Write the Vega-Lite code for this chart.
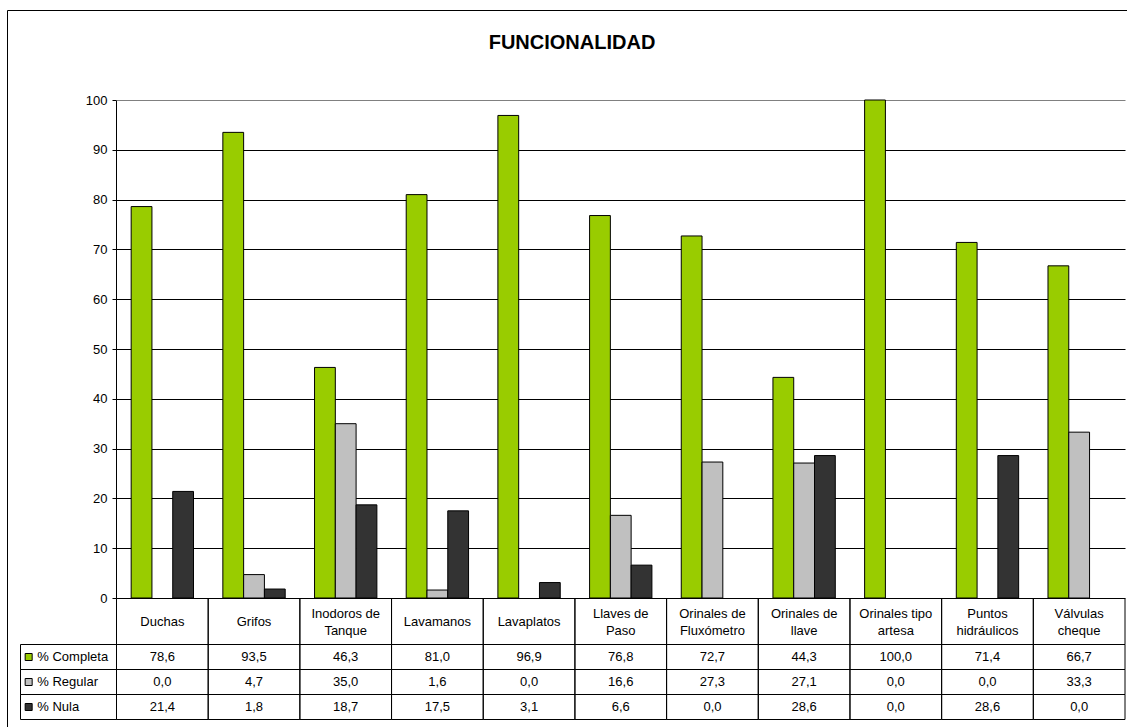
{
  "$schema": "https://vega.github.io/schema/vega-lite/v6.json",
  "width": 1130,
  "height": 725,
  "autosize": {"type": "none"},
  "padding": {"left": 7, "top": 10, "right": 0, "bottom": 0},
  "background": "white",
  "title": {
    "text": "FUNCIONALIDAD",
    "font": "Liberation Sans",
    "fontSize": 20,
    "fontWeight": "bold",
    "color": "#000",
    "anchor": "middle",
    "frame": "group",
    "offset": -43
  },
  "config": {
    "view": {"stroke": "#000", "strokeWidth": 1},
    "locale": {"number": {"decimal": ",", "thousands": ".", "grouping": [3], "currency": ["", " €"]}},
    "text": {"font": "Liberation Sans", "fontSize": 13, "color": "#000"}
  },
  "data": {
    "values": [
      {"categoria": "Duchas", "serie": "% Completa", "valor": 78.6},
      {"categoria": "Duchas", "serie": "% Regular", "valor": 0.0},
      {"categoria": "Duchas", "serie": "% Nula", "valor": 21.4},
      {"categoria": "Grifos", "serie": "% Completa", "valor": 93.5},
      {"categoria": "Grifos", "serie": "% Regular", "valor": 4.7},
      {"categoria": "Grifos", "serie": "% Nula", "valor": 1.8},
      {"categoria": "Inodoros de\nTanque", "serie": "% Completa", "valor": 46.3},
      {"categoria": "Inodoros de\nTanque", "serie": "% Regular", "valor": 35.0},
      {"categoria": "Inodoros de\nTanque", "serie": "% Nula", "valor": 18.7},
      {"categoria": "Lavamanos", "serie": "% Completa", "valor": 81.0},
      {"categoria": "Lavamanos", "serie": "% Regular", "valor": 1.6},
      {"categoria": "Lavamanos", "serie": "% Nula", "valor": 17.5},
      {"categoria": "Lavaplatos", "serie": "% Completa", "valor": 96.9},
      {"categoria": "Lavaplatos", "serie": "% Regular", "valor": 0.0},
      {"categoria": "Lavaplatos", "serie": "% Nula", "valor": 3.1},
      {"categoria": "Llaves de\nPaso", "serie": "% Completa", "valor": 76.8},
      {"categoria": "Llaves de\nPaso", "serie": "% Regular", "valor": 16.6},
      {"categoria": "Llaves de\nPaso", "serie": "% Nula", "valor": 6.6},
      {"categoria": "Orinales de\nFluxómetro", "serie": "% Completa", "valor": 72.7},
      {"categoria": "Orinales de\nFluxómetro", "serie": "% Regular", "valor": 27.3},
      {"categoria": "Orinales de\nFluxómetro", "serie": "% Nula", "valor": 0.0},
      {"categoria": "Orinales de\nllave", "serie": "% Completa", "valor": 44.3},
      {"categoria": "Orinales de\nllave", "serie": "% Regular", "valor": 27.1},
      {"categoria": "Orinales de\nllave", "serie": "% Nula", "valor": 28.6},
      {"categoria": "Orinales tipo\nartesa", "serie": "% Completa", "valor": 100.0},
      {"categoria": "Orinales tipo\nartesa", "serie": "% Regular", "valor": 0.0},
      {"categoria": "Orinales tipo\nartesa", "serie": "% Nula", "valor": 0.0},
      {"categoria": "Puntos\nhidráulicos", "serie": "% Completa", "valor": 71.4},
      {"categoria": "Puntos\nhidráulicos", "serie": "% Regular", "valor": 0.0},
      {"categoria": "Puntos\nhidráulicos", "serie": "% Nula", "valor": 28.6},
      {"categoria": "Válvulas\ncheque", "serie": "% Completa", "valor": 66.7},
      {"categoria": "Válvulas\ncheque", "serie": "% Regular", "valor": 33.3},
      {"categoria": "Válvulas\ncheque", "serie": "% Nula", "valor": 0.0}
    ]
  },
  "resolve": {"scale": {"x": "independent", "y": "independent"}},
  "layer": [
    {
      "transform": [{"filter": "datum.valor > 0"}],
      "mark": {"type": "bar", "stroke": "#000", "strokeWidth": 1},
      "encoding": {
        "x": {
          "field": "categoria", "type": "nominal", "axis": null,
          "scale": {
            "type": "band",
            "domain": ["Duchas", "Grifos", "Inodoros de\nTanque", "Lavamanos", "Lavaplatos", "Llaves de\nPaso", "Orinales de\nFluxómetro", "Orinales de\nllave", "Orinales tipo\nartesa", "Puntos\nhidráulicos", "Válvulas\ncheque"],
            "range": [109.5, 1118], "paddingInner": 0.32, "paddingOuter": 0.16
          }
        },
        "xOffset": {
          "field": "serie", "type": "nominal",
          "scale": {"domain": ["% Completa", "% Regular", "% Nula"], "paddingInner": 0, "paddingOuter": 0}
        },
        "y": {
          "field": "valor", "type": "quantitative",
          "scale": {"domain": [0, 100], "range": [588, 90], "nice": false},
          "axis": {
            "values": [0, 10, 20, 30, 40, 50, 60, 70, 80, 90, 100],
            "offset": -109,
            "title": null,
            "domain": true, "domainColor": "#000", "domainWidth": 1,
            "ticks": true, "tickSize": 4, "tickColor": "#000", "tickWidth": 1,
            "labelFont": "Liberation Sans", "labelFontSize": 13, "labelColor": "#000", "labelPadding": 5,
            "grid": true,
            "gridColor": {"condition": {"test": "datum.value === 100", "value": "#808080"}, "value": "#000"},
            "gridWidth": 1
          }
        },
        "color": {
          "field": "serie", "type": "nominal",
          "scale": {"domain": ["% Completa", "% Regular", "% Nula"], "range": ["#99CC00", "#C0C0C0", "#333333"]},
          "legend": null
        }
      }
    },
    {
      "transform": [{"filter": "datum.serie === '% Completa'"}],
      "encoding": {
        "x": {
          "field": "categoria", "type": "nominal", "sort": null, "axis": null,
          "scale": {"type": "band", "range": [109.5, 1118], "paddingInner": 0, "paddingOuter": 0}
        },
        "y": {
          "datum": "encabezado", "type": "nominal", "axis": null,
          "scale": {"type": "band", "domain": ["encabezado"], "range": [588.5, 634.5], "paddingInner": 0, "paddingOuter": 0}
        }
      },
      "layer": [
        {"mark": {"type": "rect", "fill": "transparent", "stroke": "#000", "strokeWidth": 1}},
        {
          "transform": [{"filter": "indexof(datum.categoria, '\\n') < 0"}],
          "mark": {"type": "text", "baseline": "middle", "align": "center"},
          "encoding": {"text": {"field": "categoria", "type": "nominal"}}
        },
        {
          "transform": [{"filter": "indexof(datum.categoria, '\\n') >= 0"}],
          "mark": {"type": "text", "lineBreak": "\n", "lineHeight": 17, "baseline": "middle", "align": "center", "dy": -8},
          "encoding": {"text": {"field": "categoria", "type": "nominal"}}
        }
      ]
    },
    {
      "encoding": {
        "x": {
          "field": "categoria", "type": "nominal", "sort": null, "axis": null,
          "scale": {"type": "band", "range": [109.5, 1118], "paddingInner": 0, "paddingOuter": 0}
        },
        "y": {
          "field": "serie", "type": "nominal", "axis": null,
          "scale": {"type": "band", "domain": ["% Completa", "% Regular", "% Nula"], "range": [634.5, 709.5], "paddingInner": 0, "paddingOuter": 0}
        }
      },
      "layer": [
        {"mark": {"type": "rect", "fill": "transparent", "stroke": "#000", "strokeWidth": 1}},
        {
          "mark": {"type": "text", "baseline": "middle", "align": "center"},
          "encoding": {"text": {"field": "valor", "type": "quantitative", "format": ".1f"}}
        }
      ]
    },
    {
      "transform": [{"aggregate": [{"op": "count", "as": "n"}], "groupby": ["serie"]}],
      "encoding": {
        "y": {
          "field": "serie", "type": "nominal", "axis": null,
          "scale": {"type": "band", "domain": ["% Completa", "% Regular", "% Nula"], "range": [634.5, 709.5], "paddingInner": 0, "paddingOuter": 0}
        }
      },
      "layer": [
        {
          "mark": {"type": "rect", "fill": "transparent", "stroke": "#000", "strokeWidth": 1},
          "encoding": {
            "x": {
              "datum": "leyenda", "type": "nominal", "axis": null,
              "scale": {"type": "band", "domain": ["leyenda"], "range": [13.5, 109.5], "paddingInner": 0, "paddingOuter": 0}
            }
          }
        },
        {
          "mark": {"type": "point", "shape": "square", "filled": true, "size": 49, "stroke": "#000", "strokeWidth": 1, "opacity": 1},
          "encoding": {
            "x": {"datum": "leyenda", "type": "nominal", "bandPosition": 0.085},
            "color": {
              "field": "serie", "type": "nominal",
              "scale": {"domain": ["% Completa", "% Regular", "% Nula"], "range": ["#99CC00", "#C0C0C0", "#333333"]},
              "legend": null
            }
          }
        },
        {
          "mark": {"type": "text", "baseline": "middle", "align": "left"},
          "encoding": {
            "x": {"datum": "leyenda", "type": "nominal", "bandPosition": 0.175},
            "text": {"field": "serie", "type": "nominal"}
          }
        }
      ]
    }
  ]
}
